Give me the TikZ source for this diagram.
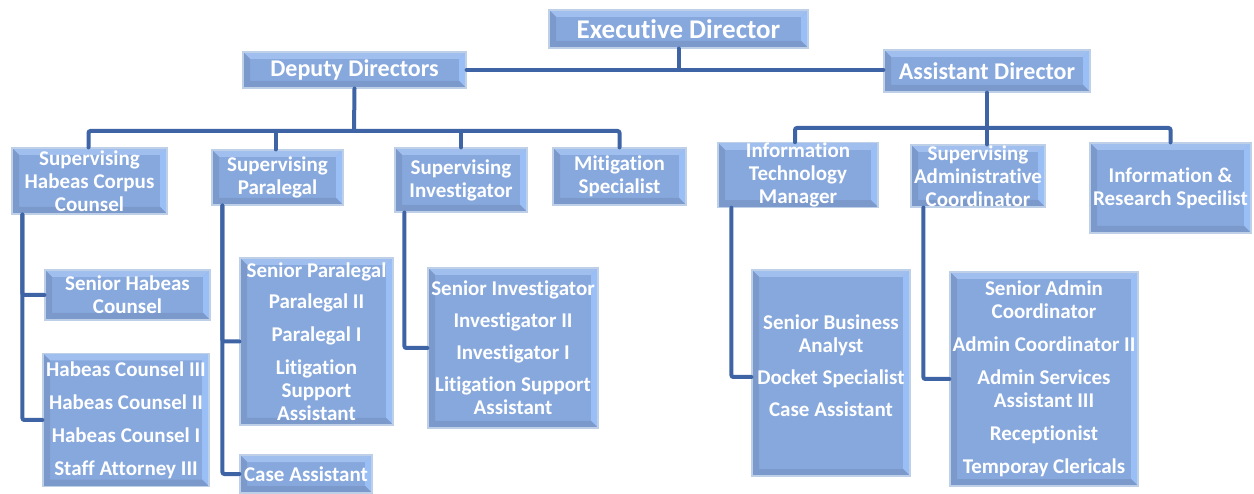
\documentclass[tikz,border=0pt]{standalone}
\usepackage{fontspec}
\setmainfont{Carlito}[Ligatures=NoCommon]
\usetikzlibrary{calc}

\tikzset{
  bevel/.style={rectangle,draw=kEdge,line width=1.2pt,fill=kMid,text=white,
    align=center,inner sep=0pt,font=\bfseries\fontsize{21}{23}\selectfont,
    path picture={
      \coordinate (nw) at (path picture bounding box.north west);
      \coordinate (ne) at (path picture bounding box.north east);
      \coordinate (sw) at (path picture bounding box.south west);
      \coordinate (se) at (path picture bounding box.south east);
      \fill[kTop]   (nw) -- (ne) -- ([shift={(-7pt,-7pt)}]ne) -- ([shift={(7pt,-7pt)}]nw) -- cycle;
      \fill[kRight] (ne) -- (se) -- ([shift={(-7pt,7pt)}]se) -- ([shift={(-7pt,-7pt)}]ne) -- cycle;
      \fill[kBottom](se) -- (sw) -- ([shift={(7pt,7pt)}]sw) -- ([shift={(-7pt,7pt)}]se) -- cycle;
      \fill[kLeft]  (sw) -- (nw) -- ([shift={(7pt,-7pt)}]nw) -- ([shift={(7pt,7pt)}]sw) -- cycle;
    }},
  conn/.style={draw=kLine,line width=4pt,rounded corners=2pt,line cap=round},
}

\begin{document}
\begin{tikzpicture}[x=1pt,y=-1pt]
  \definecolor{kMid}{RGB}{135,168,221}
  \definecolor{kTop}{RGB}{160,191,238}
  \definecolor{kRight}{RGB}{154,191,246}
  \definecolor{kBottom}{RGB}{124,153,203}
  \definecolor{kLeft}{RGB}{124,153,204}
  \definecolor{kEdge}{RGB}{190,207,232}
  \definecolor{kLine}{RGB}{62,100,165}

  \useasboundingbox (0,0) rectangle (1254,494);

  % top level
  \node[bevel,minimum width=259pt,minimum height=38pt,font=\bfseries\fontsize{27}{30}\selectfont] (exec) at (678.5,29) {Executive Director};
  \node[bevel,minimum width=223pt,minimum height=36pt,font=\bfseries\fontsize{24}{27}\selectfont] (deputy) at (354.5,70) {Deputy Directors};
  \node[bevel,minimum width=206pt,minimum height=42pt,font=\bfseries\fontsize{24}{27}\selectfont] (asst) at (987,71) {Assistant Director};

  % supervisors
  \node[bevel,minimum width=155pt,minimum height=66pt] (habsup) at (89.5,181) {Supervising\\Habeas Corpus\\Counsel};
  \node[bevel,minimum width=131pt,minimum height=55pt] (parasup) at (277.5,177.5) {Supervising\\Paralegal};
  \node[bevel,minimum width=132pt,minimum height=64pt] (invsup) at (461,180) {Supervising\\Investigator};
  \node[bevel,minimum width=133pt,minimum height=57pt] (mitig) at (619.5,176.5) {Mitigation\\Specialist};
  \node[bevel,minimum width=160pt,minimum height=60pt] (itmgr) at (798,175) {Information\\Technology\\Manager};
  \node[bevel,minimum width=134pt,minimum height=62pt] (admsup) at (978,176) {Supervising\\Administrative\\Coordinator};
  \node[bevel,minimum width=161pt,minimum height=90pt] (info) at (1170.5,188) {Information \&\\Research Specilist};

  % staff
  \node[bevel,minimum width=165pt,minimum height=50pt] (senhab) at (127.5,295) {Senior Habeas\\Counsel};
  \node[bevel,minimum width=166pt,minimum height=133pt] (habstaff) at (126,420) {Habeas Counsel III\\[10pt]Habeas Counsel II\\[10pt]Habeas Counsel I\\[10pt]Staff Attorney III};
  \node[bevel,minimum width=153pt,minimum height=167pt] (parastaff) at (316.5,341.5) {Senior Paralegal\\[8pt]Paralegal II\\[10pt]Paralegal I\\[10pt]Litigation\\Support\\Assistant};
  \node[bevel,minimum width=132pt,minimum height=38pt] (caseasst) at (306,474) {Case Assistant};
  \node[bevel,minimum width=170pt,minimum height=160pt] (invstaff) at (513,348) {Senior Investigator\\[9pt]Investigator II\\[9pt]Investigator I\\[9pt]Litigation Support\\Assistant};
  \node[bevel,minimum width=158pt,minimum height=206pt] (itstaff) at (831,373) {Senior Business\\Analyst\\[9pt]Docket Specialist\\[9pt]Case Assistant\\[-9pt]};
  \node[bevel,minimum width=188pt,minimum height=214pt] (admstaff) at (1044,379) {Senior Admin\\Coordinator\\[10pt]Admin Coordinator II\\[10pt]Admin Services\\Assistant III\\[10pt]Receptionist\\[10pt]Temporay Clericals};

  % connectors
  \coordinate (lbar) at (354,131);
  \coordinate (rbar) at (987,128);
  \draw[conn] (exec.south) -- (exec.south |- deputy.east);
  \draw[conn] (deputy.east) -- (deputy.east -| asst.west);
  \draw[conn] (deputy.south) -- (lbar);
  \draw[conn] ([xshift=-1pt]habsup.north) -- ([xshift=-1pt]habsup.north |- lbar) -- (mitig.north |- lbar) -- (mitig.north);
  \draw[conn] ([xshift=-2pt]parasup.north) -- ([xshift=-2pt]parasup.north |- lbar);
  \draw[conn] (invsup.north) -- (invsup.north |- lbar);
  \draw[conn] (asst.south) -- (asst.south |- admsup.north);
  \draw[conn] ([xshift=-3pt]itmgr.north) -- ([xshift=-3pt]itmgr.north |- rbar) -- (info.north |- rbar) -- (info.north);

  \draw[conn] ([xshift=11pt]habsup.south west) |- (senhab.west);
  \draw[conn] ([xshift=11pt]habsup.south west) |- (habstaff.west);
  \draw[conn] ([xshift=11pt]parasup.south west) |- (parastaff.west);
  \draw[conn] ([xshift=11pt]parasup.south west) |- (caseasst.west);
  \draw[conn] ([xshift=10pt]invsup.south west) |- (invstaff.west);
  \draw[conn] ([xshift=14pt]itmgr.south west) |- ([yshift=-4pt]itstaff.west);
  \draw[conn] ([xshift=13pt]admsup.south west) |- (admstaff.west);
\end{tikzpicture}
\end{document}
